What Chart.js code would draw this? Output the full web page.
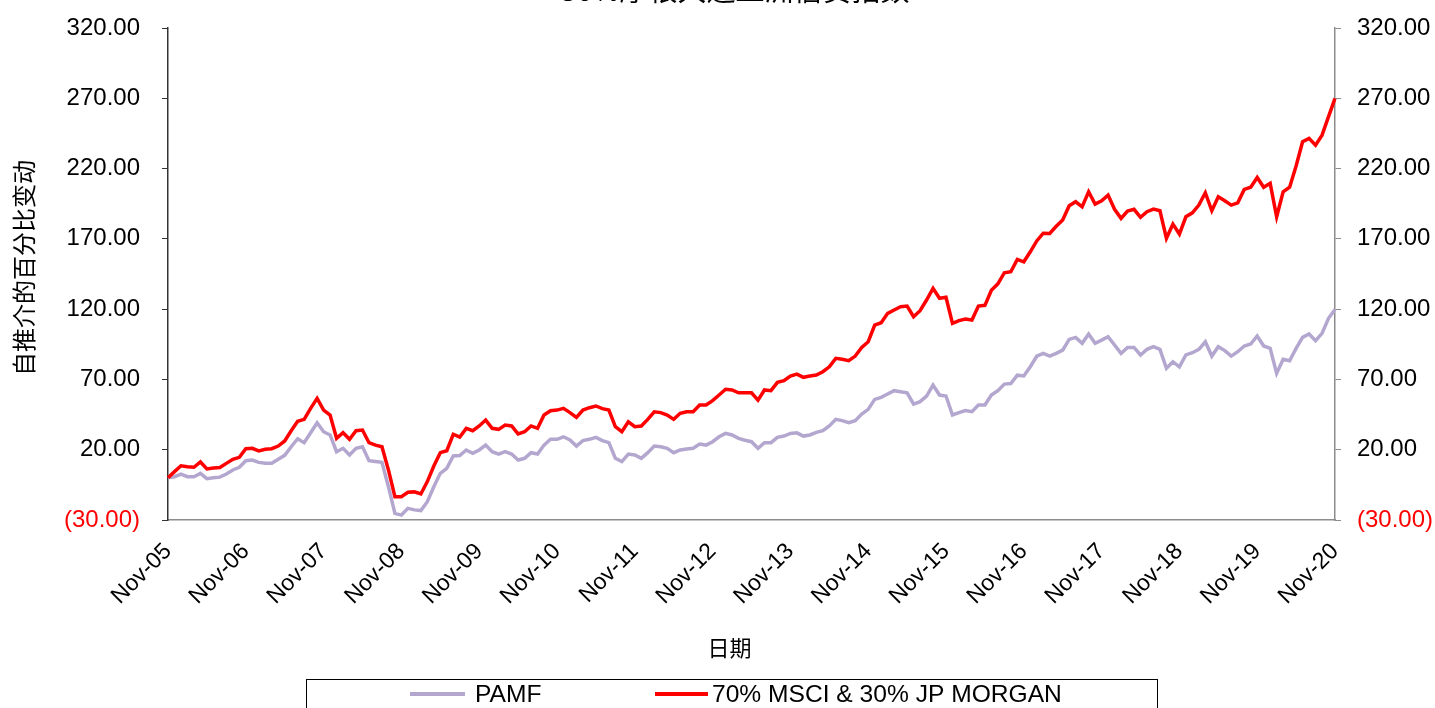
<!DOCTYPE html>
<html>
<head>
<meta charset="utf-8">
<script src="https://cdn.jsdelivr.net/npm/chart.js@4/dist/chart.umd.min.js"></script>
<style>
  body { margin: 0; background: #fff; }
  #wrap { width: 1435px; height: 708px; }
</style>
</head>
<body>
<div id="wrap"><canvas id="chart" width="1435" height="708"></canvas></div>
<script>
const seriesNames = ['PAMF', '70% MSCI & 30% JP MORGAN']
const titleText = '30%摩根大通亚洲信贷指数'
const yTitle = '自推介的百分比变动'
const xTitle = '日期'

// monthly, Nov-05 .. Nov-20
const monthNames = ['Jan', 'Feb', 'Mar', 'Apr', 'May', 'Jun', 'Jul', 'Aug', 'Sep', 'Oct', 'Nov', 'Dec']
const labels = []
for (let i = 0; i <= 180; i++) {
  const m = (10 + i) % 12
  const y = 5 + Math.floor((10 + i) / 12)
  labels.push(monthNames[m] + '-' + String(y).padStart(2, '0'))
}

const pamf = [
  0, 0.8, 2.7, 0.8, 0.8, 3.2, -0.6, 0, 0.5, 2.7, 5.6, 7.5,
  12.2, 12.6, 11, 10.3, 10.3, 13.2, 16, 22.1, 27.8, 25, 32.1, 39.2,
  32.8, 30.5, 18.6, 21, 16.2, 21, 22.1, 12.2, 11.6, 11, -6.3, -25.3,
  -26.5, -21.7, -22.8, -23.3, -17, -6.3, 3.2, 6.8, 15.5, 15.8, 19.8, 17.4,
  19.8, 23.3, 18.6, 16.9, 18.6, 16.9, 12.7, 13.9, 17.9, 16.9, 23.3, 27.4,
  27.4, 29.2, 27, 22.6, 26.5, 27.4, 28.8, 26.5, 25, 13.9, 11.5, 16.9,
  16.2, 13.9, 17.9, 22.6, 22.1, 21, 17.9, 19.8, 20.5, 21, 24, 23.3,
  25.7, 29.2, 31.6, 30.5, 28.1, 26.7, 25.7, 21, 25, 25, 28.8, 29.7,
  31.6, 32, 29.7, 30.5, 32.3, 33.5, 36.9, 41.6, 40.7, 39.2, 40.7, 45.4,
  48.7, 55.8, 57.2, 59.6, 62, 61.3, 60.5, 52.5, 54.2, 58.2, 66, 58.9,
  58.2, 44.7, 46.4, 47.8, 47.1, 51.8, 51.8, 58.9, 62, 66.7, 67.1, 73,
  72.5, 79, 86.5, 88.5, 86.6, 88.5, 90.9, 98.5, 99.9, 95.7, 102.3, 95.7,
  98, 100.4, 94.5, 88.5, 92.8, 92.8, 87.4, 91.4, 93.3, 91.4, 77.9, 82.6,
  79, 87.4, 89, 91.4, 96.8, 86.6, 93.3, 90.5, 86.6, 89.7, 93.8, 95.2,
  100.9, 93.8, 92.1, 74.3, 84.3, 83.3, 92.1, 99.9, 102.3, 97.6, 102.8, 113.5,
  119.8
]

const benchmark = [
  0, 4.4, 8.6, 7.9, 7.5, 11.3, 6.3, 7, 7.3, 10.3, 13.2, 14.6,
  20.7, 21, 19.1, 20.3, 20.7, 22.6, 26.2, 33.5, 40.2, 41.6, 49.4, 56.5,
  48.2, 44.7, 28.1, 32.1, 27.4, 33.5, 34, 25, 23.3, 22.1, 5.6, -13.4,
  -13.4, -10.3, -10, -11.5, -2.7, 8.4, 17.9, 19.3, 31, 29, 35.2, 33.5,
  36.9, 41.1, 35.2, 34.5, 37.6, 36.9, 31.2, 32.8, 36.9, 35.2, 44.7, 47.7,
  48.2, 49.4, 46.4, 43, 48.2, 49.9, 51.1, 49.2, 48.2, 36.4, 32.8, 39.9,
  36.4, 36.9, 41.6, 47, 46.4, 44.7, 41.6, 45.9, 47, 47, 51.8, 51.8,
  54.9, 58.9, 63, 62.5, 60.5, 60.5, 60.5, 55.3, 62.5, 62, 67.9, 69.1,
  72.4, 73.8, 71.5, 72.4, 73.1, 75.5, 79, 85, 84.3, 83.3, 86.6, 92.8,
  96.8, 108.7, 110.3, 117, 119.4, 121.7, 122.2, 114.6, 118.9, 126.5, 134.8, 127.7,
  128.4, 109.9, 111.8, 113, 112.3, 122.2, 122.7, 133.4, 138, 145.9, 146.6, 155.4,
  153.7, 160.8, 168.5, 174, 173.9, 179, 183.4, 193.6, 196.4, 192.8, 203.5, 194.7,
  197.1, 201.1, 191, 184.6, 189.8, 191, 185.3, 189.3, 191.2, 190, 170.4, 180.5,
  173.4, 185.7, 188.5, 194, 202.8, 190, 199.9, 197.1, 194, 195.6, 205.2, 206.7,
  213.7, 206.7, 209.5, 185.7, 203.5, 206.7, 221.8, 239.1, 241.5, 236.7, 243.8, 256.9,
  269.9
]

const yMin = -30
const yMax = 320
const yStep = 50

const purple = '#b4a7cf'
const red = '#ff0000'

function fmtTick(v) {
  return v < 0 ? '(' + Math.abs(v).toFixed(2) + ')' : v.toFixed(2)
}

const extras = {
  id: 'extras',
  afterDraw(chart) {
    const ctx = chart.ctx
    ctx.save()
    // title, mostly cut off at the top like the source
    ctx.fillStyle = '#000'
    ctx.font = '29px "Noto Sans CJK SC", sans-serif'
    ctx.textAlign = 'center'
    ctx.textBaseline = 'alphabetic'
    ctx.fillText(titleText, 735, 1)

    // legend box
    ctx.strokeStyle = '#000'
    ctx.lineWidth = 1
    ctx.strokeRect(306.5, 679.5, 851, 60)
    const items = [
      { x0: 410, x1: 465, tx: 475, color: purple, text: seriesNames[0] },
      { x0: 655, x1: 708, tx: 712, color: red, text: seriesNames[1] },
    ]
    ctx.font = '24.6px "Liberation Sans", Arial, sans-serif'
    ctx.textAlign = 'left'
    ctx.textBaseline = 'middle'
    items.forEach((it) => {
      ctx.strokeStyle = it.color
      ctx.lineWidth = 4
      ctx.beginPath()
      ctx.moveTo(it.x0, 694)
      ctx.lineTo(it.x1, 694)
      ctx.stroke()
      ctx.fillStyle = '#000'
      ctx.fillText(it.text, it.tx, 695)
    })
    ctx.restore()
  },
}

const tickFont = { family: '"Liberation Sans", Arial, sans-serif', size: 24 }

// fixed axis sizes so the plot sits where it does in the source
function fixY(width) {
  return (s) => {
    s.width = width
    s.paddingTop = 0
    s.paddingBottom = 0
  }
}

new Chart(document.getElementById('chart'), {
  type: 'line',
  data: {
    labels: labels,
    datasets: [
      {
        label: seriesNames[1],
        data: benchmark,
        borderColor: red,
        borderWidth: 3.5,
        pointRadius: 0,
        tension: 0,
        fill: false,
        yAxisID: 'y',
      },
      {
        label: seriesNames[0],
        data: pamf,
        borderColor: purple,
        borderWidth: 3.5,
        pointRadius: 0,
        tension: 0,
        fill: false,
        yAxisID: 'y',
      },
    ],
  },
  options: {
    responsive: false,
    animation: false,
    events: [],
    layout: { padding: { top: 28, bottom: 28, left: 0, right: 0 } },
    plugins: {
      legend: { display: false },
      tooltip: { enabled: false },
      title: { display: false },
    },
    scales: {
      x: {
        type: 'category',
        offset: false,
        grid: { display: false, drawTicks: false },
        border: { display: true, color: '#8c8c8c', width: 1.5 },
        ticks: {
          autoSkip: false,
          maxRotation: 45,
          minRotation: 45,
          padding: 18,
          color: '#000',
          font: { family: '"Liberation Sans", Arial, sans-serif', size: 23 },
          callback: function (val, i) {
            return i % 12 === 0 ? labels[i] : ''
          },
        },
        title: {
          display: true,
          text: xTitle + '\u3000\u3000',
          color: '#000',
          font: { family: '"Noto Sans CJK SC", sans-serif', size: 22 },
          padding: { top: 0, bottom: 19 },
        },
        afterFit: (s) => { s.height = 160 },
      },
      y: {
        position: 'left',
        min: yMin,
        max: yMax,
        ticks: {
          stepSize: yStep,
          padding: 22,
          font: tickFont,
          color: (c) => (c.tick && c.tick.value < 0 ? red : '#000'),
          callback: (v) => fmtTick(v),
        },
        grid: { drawOnChartArea: false, drawTicks: true, tickLength: 6, color: '#333' },
        border: { display: true, color: '#333', width: 1.5 },
        title: {
          display: true,
          text: '\u2002' + yTitle,
          color: '#000',
          font: { family: '"Noto Sans CJK SC", sans-serif', size: 24 },
          padding: { top: 9, bottom: 0 },
        },
        afterFit: fixY(168),
      },
      y2: {
        position: 'right',
        min: yMin,
        max: yMax,
        ticks: {
          stepSize: yStep,
          padding: 16,
          font: tickFont,
          color: (c) => (c.tick && c.tick.value < 0 ? red : '#000'),
          callback: (v) => fmtTick(v),
        },
        grid: { drawOnChartArea: false, drawTicks: true, tickLength: 6, color: '#8c8c8c' },
        border: { display: true, color: '#8c8c8c', width: 1.5 },
        afterFit: fixY(100),
      },
    },
  },
  plugins: [extras],
})
</script>
</body>
</html>
